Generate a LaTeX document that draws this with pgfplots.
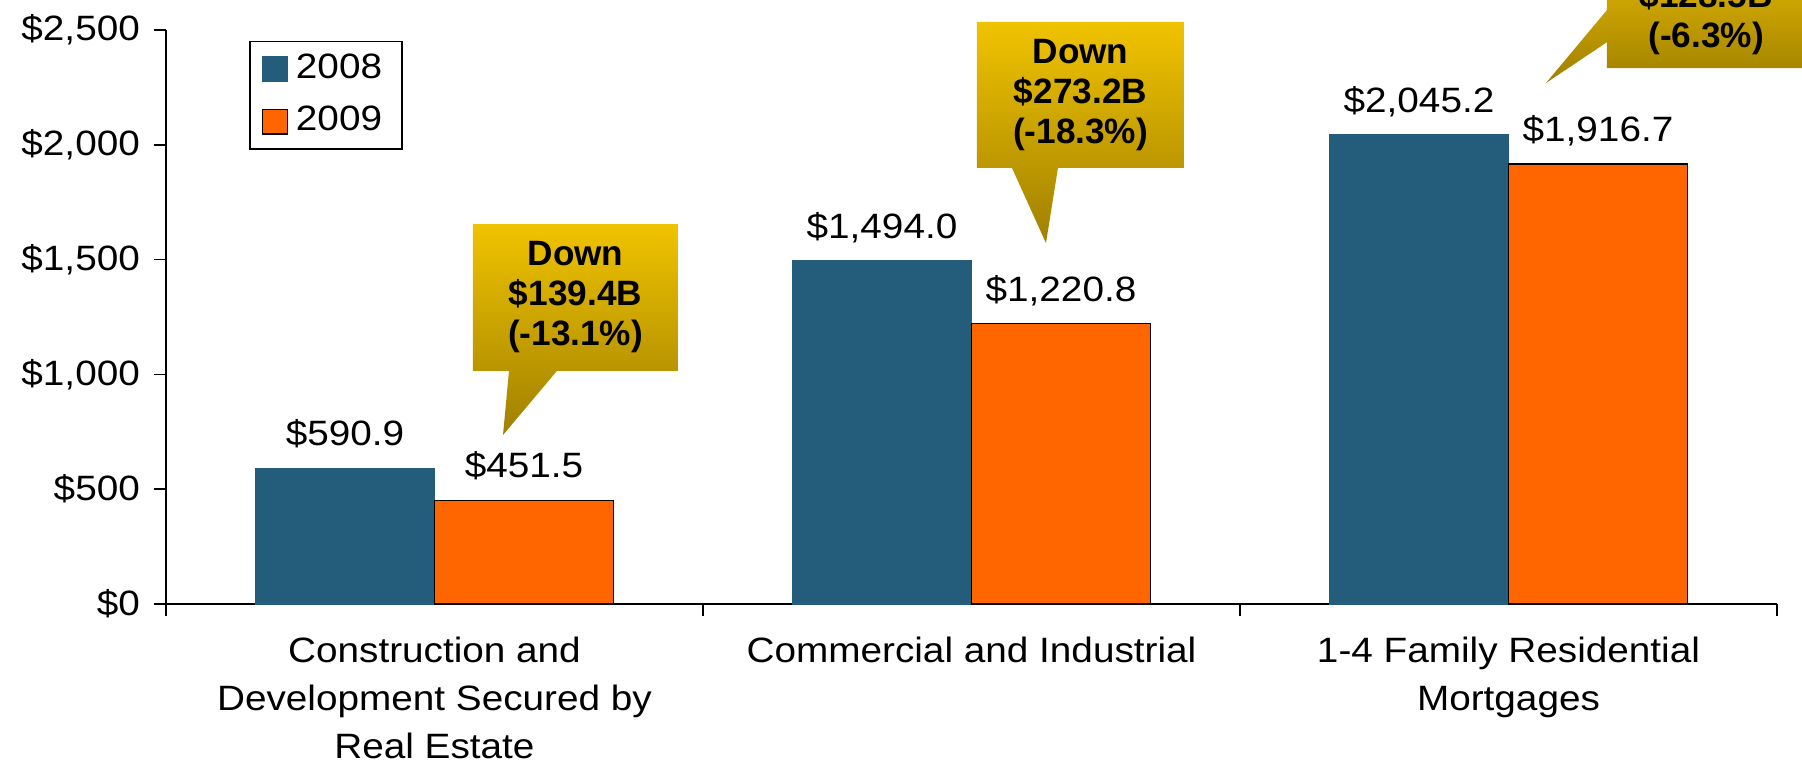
\documentclass[border=0pt]{standalone}
\usepackage{pgfplots}
\pgfplotsset{compat=1.18}
\usepackage{fontspec}
\setmainfont[FakeStretch=1.1]{Liberation Sans}
\newfontfamily\calloutfont{Liberation Sans}
\definecolor{c08}{HTML}{245D7C}
\definecolor{c09}{HTML}{FF6600}
\definecolor{ctop}{HTML}{F0C300}
\definecolor{cbot}{HTML}{A08000}
\begin{document}
\begin{tikzpicture}[font=\fontsize{8.8}{12}\selectfont]
\useasboundingbox (-41.5pt,-41pt) rectangle (409pt,151pt);
\begin{axis}[
  at={(0,0)}, anchor=south west,
  scale only axis, width=402.75pt, height=143.5pt,
  xmin=-0.5, xmax=2.5, ymin=0, ymax=2500,
  axis x line*=bottom, axis y line*=left,
  axis line style={black, line width=0.4pt},
  ytick={0,500,...,2500},
  yticklabel={\$\pgfmathprintnumber{\tick}},
  /pgf/number format/1000 sep={,},
  /pgf/number format/assume math mode=true,
  xtick={-0.5,0.5,1.5,2.5}, xticklabels={},
  extra x ticks={0,1,2},
  extra x tick labels={{Construction and\\Development Secured by\\Real Estate},{Commercial and Industrial},{1-4 Family Residential\\Mortgages}},
  extra x tick style={tick style={draw=none}},
  xticklabel style={align=center, font=\fontsize{8.8}{12}\selectfont, yshift=-1.75pt},
  yticklabel style={font=\fontsize{8.8}{12}\selectfont},
  tick align=outside, major tick length=3pt,
  tick style={black, line width=0.4pt},
  ybar=0pt, bar width=0.3333,
  clip=false,
  point meta=explicit symbolic,
  nodes near coords,
  every node near coord/.append style={anchor=base, yshift=5.6pt, font=\fontsize{8.8}{12}\selectfont},
  legend style={at={(rel axis cs:0.0515,0.981)}, anchor=north west, draw=black, line width=0.4pt,
    font=\fontsize{8.8}{10}\selectfont, row sep=1.5pt, inner xsep=3pt, inner ysep=1pt},
]
\addplot[fill=c08, draw=c08, line width=0.3pt,
  legend image code/.code={\fill[c08] (0pt,-3.1pt) rectangle (6.25pt,3.1pt);}]
  coordinates {(0,590.9) [\$590.9] (1,1494.0) [\$1{,}494.0] (2,2045.2) [\$2{,}045.2]};
\addlegendentry{2008}
\addplot[fill=c09, draw=black, line width=0.3pt,
  legend image code/.code={\draw[fill=c09, draw=black, line width=0.3pt] (0pt,-3.1pt) rectangle (6.25pt,3.1pt);}]
  coordinates {(0,451.5) [\$451.5] (1,1220.8) [\$1{,}220.8] (2,1916.7) [\$1{,}916.7]};
\addlegendentry{2009}
\shade[top color=ctop, bottom color=cbot]
  (axis cs:0.0717,1655) -- (axis cs:0.4534,1655) -- (axis cs:0.4534,1015) -- (axis cs:0.228,1015)
  -- (axis cs:0.1276,736) -- (axis cs:0.1387,1015) -- (axis cs:0.0717,1015) -- cycle;
\node[align=center, inner sep=0pt, font=\calloutfont\fontsize{8.8}{10}\selectfont\bfseries] at (axis cs:0.2626,1335) {Down\\\$139.4B\\(-13.1\%)};
\shade[top color=ctop, bottom color=cbot]
  (axis cs:1.0102,2535) -- (axis cs:1.3957,2535) -- (axis cs:1.3957,1899) -- (axis cs:1.161,1899)
  -- (axis cs:1.1387,1572) -- (axis cs:1.0754,1899) -- (axis cs:1.0102,1899) -- cycle;
\node[align=center, inner sep=0pt, font=\calloutfont\fontsize{8.8}{10}\selectfont\bfseries] at (axis cs:1.203,2217) {Down\\\$273.2B\\(-18.3\%)};
\shade[top color=ctop, bottom color=cbot]
  (axis cs:2.1834,2935) -- (axis cs:2.552,2935) -- (axis cs:2.552,2334) -- (axis cs:2.1834,2334)
  -- (axis cs:2.1834,2447) -- (axis cs:2.0698,2269) -- (axis cs:2.1834,2587) -- cycle;
\node[align=center, inner sep=0pt, font=\calloutfont\fontsize{8.8}{10}\selectfont\bfseries] at (axis cs:2.368,2634) {Down\\\$128.5B\\(-6.3\%)};
\end{axis}
\end{tikzpicture}
\end{document}
